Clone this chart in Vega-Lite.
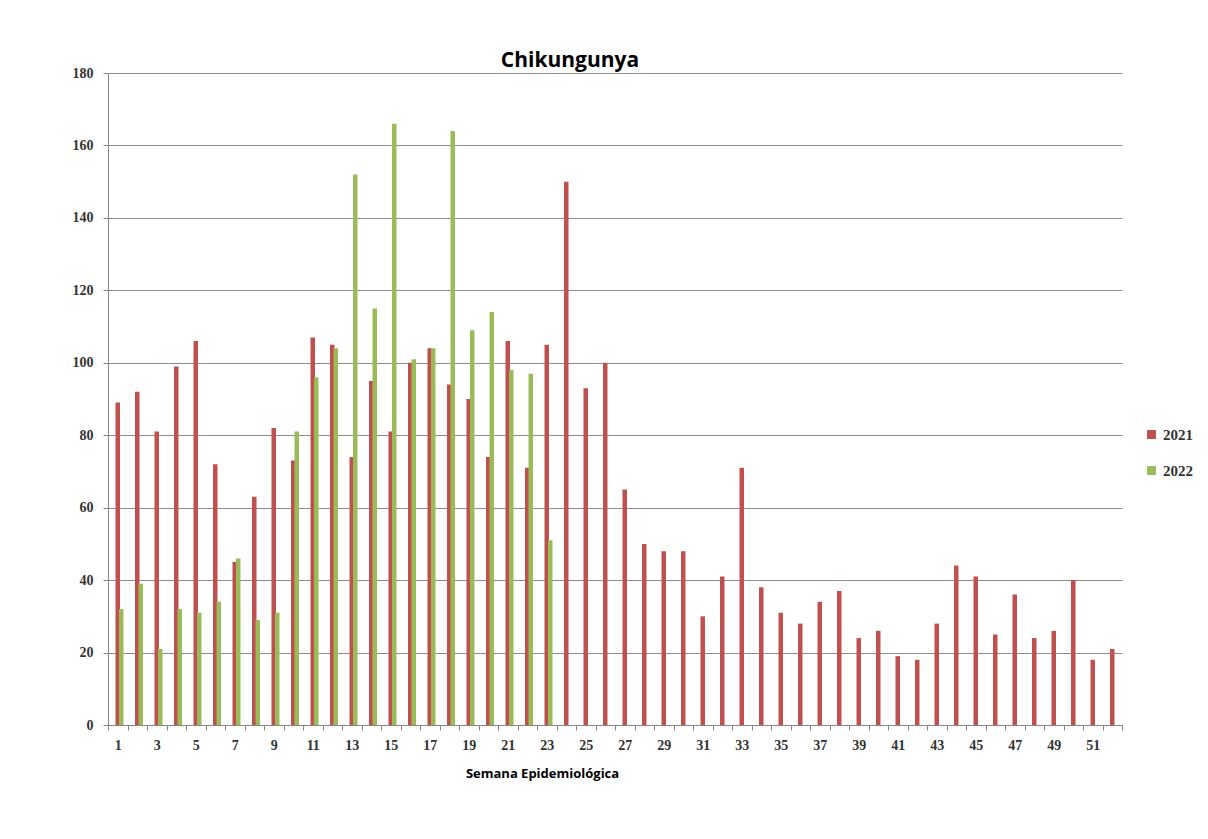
{
  "$schema": "https://vega.github.io/schema/vega-lite/v6.json",
  "width": 1014,
  "height": 652,
  "autosize": {"type": "none"},
  "padding": {"left": 108, "top": 73, "right": 86, "bottom": 114},
  "background": "white",
  "config": {"view": {"stroke": null}},
  "title": {
    "text": "Chikungunya",
    "font": "Open Sans",
    "fontSize": 21,
    "fontWeight": "bold",
    "color": "#000000",
    "anchor": "middle",
    "dx": -45,
    "baseline": "alphabetic",
    "offset": -22
  },
  "data": {
    "values": [
      {"week": 1, "year": "2021", "cases": 89}, {"week": 2, "year": "2021", "cases": 92},
      {"week": 3, "year": "2021", "cases": 81}, {"week": 4, "year": "2021", "cases": 99},
      {"week": 5, "year": "2021", "cases": 106}, {"week": 6, "year": "2021", "cases": 72},
      {"week": 7, "year": "2021", "cases": 45}, {"week": 8, "year": "2021", "cases": 63},
      {"week": 9, "year": "2021", "cases": 82}, {"week": 10, "year": "2021", "cases": 73},
      {"week": 11, "year": "2021", "cases": 107}, {"week": 12, "year": "2021", "cases": 105},
      {"week": 13, "year": "2021", "cases": 74}, {"week": 14, "year": "2021", "cases": 95},
      {"week": 15, "year": "2021", "cases": 81}, {"week": 16, "year": "2021", "cases": 100},
      {"week": 17, "year": "2021", "cases": 104}, {"week": 18, "year": "2021", "cases": 94},
      {"week": 19, "year": "2021", "cases": 90}, {"week": 20, "year": "2021", "cases": 74},
      {"week": 21, "year": "2021", "cases": 106}, {"week": 22, "year": "2021", "cases": 71},
      {"week": 23, "year": "2021", "cases": 105}, {"week": 24, "year": "2021", "cases": 150},
      {"week": 25, "year": "2021", "cases": 93}, {"week": 26, "year": "2021", "cases": 100},
      {"week": 27, "year": "2021", "cases": 65}, {"week": 28, "year": "2021", "cases": 50},
      {"week": 29, "year": "2021", "cases": 48}, {"week": 30, "year": "2021", "cases": 48},
      {"week": 31, "year": "2021", "cases": 30}, {"week": 32, "year": "2021", "cases": 41},
      {"week": 33, "year": "2021", "cases": 71}, {"week": 34, "year": "2021", "cases": 38},
      {"week": 35, "year": "2021", "cases": 31}, {"week": 36, "year": "2021", "cases": 28},
      {"week": 37, "year": "2021", "cases": 34}, {"week": 38, "year": "2021", "cases": 37},
      {"week": 39, "year": "2021", "cases": 24}, {"week": 40, "year": "2021", "cases": 26},
      {"week": 41, "year": "2021", "cases": 19}, {"week": 42, "year": "2021", "cases": 18},
      {"week": 43, "year": "2021", "cases": 28}, {"week": 44, "year": "2021", "cases": 44},
      {"week": 45, "year": "2021", "cases": 41}, {"week": 46, "year": "2021", "cases": 25},
      {"week": 47, "year": "2021", "cases": 36}, {"week": 48, "year": "2021", "cases": 24},
      {"week": 49, "year": "2021", "cases": 26}, {"week": 50, "year": "2021", "cases": 40},
      {"week": 51, "year": "2021", "cases": 18}, {"week": 52, "year": "2021", "cases": 21},
      {"week": 1, "year": "2022", "cases": 32}, {"week": 2, "year": "2022", "cases": 39},
      {"week": 3, "year": "2022", "cases": 21}, {"week": 4, "year": "2022", "cases": 32},
      {"week": 5, "year": "2022", "cases": 31}, {"week": 6, "year": "2022", "cases": 34},
      {"week": 7, "year": "2022", "cases": 46}, {"week": 8, "year": "2022", "cases": 29},
      {"week": 9, "year": "2022", "cases": 31}, {"week": 10, "year": "2022", "cases": 81},
      {"week": 11, "year": "2022", "cases": 96}, {"week": 12, "year": "2022", "cases": 104},
      {"week": 13, "year": "2022", "cases": 152}, {"week": 14, "year": "2022", "cases": 115},
      {"week": 15, "year": "2022", "cases": 166}, {"week": 16, "year": "2022", "cases": 101},
      {"week": 17, "year": "2022", "cases": 104}, {"week": 18, "year": "2022", "cases": 164},
      {"week": 19, "year": "2022", "cases": 109}, {"week": 20, "year": "2022", "cases": 114},
      {"week": 21, "year": "2022", "cases": 98}, {"week": 22, "year": "2022", "cases": 97},
      {"week": 23, "year": "2022", "cases": 51}
    ]
  },
  "encoding": {
    "x": {
      "field": "week",
      "type": "ordinal",
      "scale": {"paddingInner": 0, "paddingOuter": 0},
      "axis": {
        "title": "Semana Epidemiológica",
        "titleFont": "Open Sans",
        "titleFontSize": 13,
        "titleFontWeight": "bold",
        "titleColor": "#000000",
        "titleX": 434,
        "titleY": 48,
        "titleBaseline": "middle",
        "labelAngle": 0,
        "labelExpr": "datum.value % 2 == 1 ? datum.label : ''",
        "labelFont": "Liberation Serif",
        "labelFontSize": 14,
        "labelFontWeight": "bold",
        "labelColor": "#333333",
        "labelPadding": 8,
        "tickBand": "extent",
        "tickSize": 5,
        "tickColor": "#868686",
        "domainColor": "#868686",
        "grid": false
      }
    },
    "y": {
      "field": "cases",
      "type": "quantitative",
      "scale": {"domain": [0, 180], "nice": false},
      "axis": {
        "title": null,
        "values": [0, 20, 40, 60, 80, 100, 120, 140, 160, 180],
        "labelFont": "Liberation Serif",
        "labelFontSize": 14,
        "labelFontWeight": "bold",
        "labelColor": "#333333",
        "labelPadding": 10,
        "tickSize": 5,
        "tickColor": "#868686",
        "domainColor": "#868686",
        "gridColor": "#8c8c8c",
        "gridWidth": 1
      }
    },
    "color": {
      "field": "year",
      "type": "nominal",
      "scale": {"domain": ["2021", "2022"], "range": ["#c0504d", "#9bbb59"]},
      "legend": {
        "title": null,
        "orient": "none",
        "legendX": 1036,
        "legendY": 354,
        "symbolType": "square",
        "symbolSize": 80,
        "symbolStrokeWidth": 0,
        "rowPadding": 20,
        "labelFont": "Liberation Serif",
        "labelFontSize": 15,
        "labelFontWeight": "bold",
        "labelColor": "#333333",
        "labelOffset": 4
      }
    }
  },
  "layer": [
    {
      "transform": [{"filter": "datum.year == '2021'"}],
      "mark": {"type": "bar", "width": 4.5}
    },
    {
      "transform": [{"filter": "datum.year == '2022'"}],
      "mark": {"type": "bar", "width": 4.5, "xOffset": 3.5}
    }
  ]
}
